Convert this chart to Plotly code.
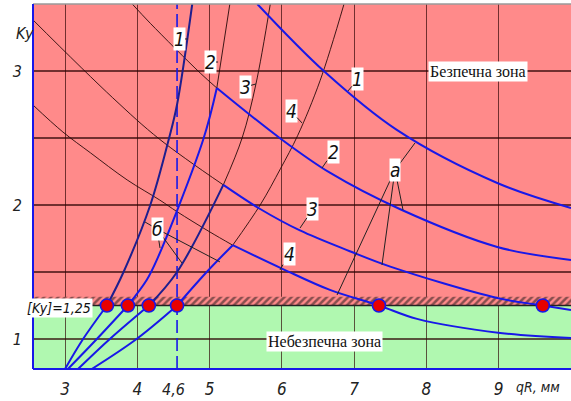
import plotly.graph_objects as go

# ---------------- data ----------------
# increasing curves (family "б"), Ky vs qR
inc1_q = [3.00, 3.25, 3.58, 3.81, 4.18, 4.44, 4.55, 4.76]
inc1_k = [0.776, 1.00, 1.25, 1.50, 2.00, 2.50, 2.75, 3.50]
inc2_q = [3.04, 3.44, 3.87, 4.13, 4.27, 4.91, 5.10, 5.28]
inc2_k = [0.776, 1.00, 1.25, 1.44, 1.59, 2.485, 2.873, 3.50]
inc3_q = [3.18, 3.62, 4.16, 4.55, 5.19, 5.45, 5.64, 5.84]
inc3_k = [0.776, 1.00, 1.25, 1.50, 2.15, 2.50, 2.90, 3.50]
inc4_q = [3.37, 3.99, 4.55, 4.96, 5.32, 5.70, 5.98, 6.22, 6.53, 6.86]
inc4_k = [0.776, 1.00, 1.25, 1.50, 1.70, 2.00, 2.27, 2.52, 2.93, 3.50]

# decreasing curves (family "а")
dec1_q = [5.66, 6.60, 7.59, 8.98, 10.0]
dec1_k = [3.50, 2.99, 2.56, 2.164, 1.978]
dec2_q = [3.93, 4.18, 4.87, 5.10, 5.97, 6.67, 7.63, 8.98, 10.0]
dec2_k = [3.50, 3.356, 2.985, 2.873, 2.50, 2.239, 1.970, 1.687, 1.59]
dec3_q = [2.557, 3.66, 4.31, 5.19, 5.70, 6.25, 6.94, 7.50, 8.98, 9.61, 10.0]
dec3_k = [3.381, 2.80, 2.49, 2.15, 1.97, 1.81, 1.655, 1.54, 1.306, 1.25, 1.216]
dec4_q = [2.557, 2.97, 3.35, 3.86, 4.31, 4.55, 5.00, 5.32, 6.015, 6.665, 7.343, 7.87, 9.02, 10.0]
dec4_k = [2.746, 2.545, 2.39, 2.187, 2.037, 1.95, 1.80, 1.70, 1.522, 1.366, 1.25, 1.15, 1.045, 1.007]

# qR where the governing curve switches from "б" to "а" (None: outside the view)
switch_q = [None, 5.10, 5.19, 5.32]

# points where Ky reaches the allowed value
dot_q = [3.58, 3.87, 4.16, 4.55, 7.343, 9.61]
dot_k = [1.25, 1.25, 1.25, 1.25, 1.25, 1.25]

ky_allow = 1.25
q_mark = 4.55
x_ticks = [3, 4, 5, 6, 7, 8, 9]
x_ticktext = ["3", "4", "5", "6", "7", "8", "9"]
y_ticks = [1, 2, 3]
y_ticktext = ["1", "2", "3"]
y_minor = [1.5, 2.5]
curve_names = ["1", "2", "3", "4"]

# ---------------- styling ----------------
X_RANGE = [2.557, 10.0]
Y_RANGE = [0.776, 3.5]
PINK = "#ff8a8a"
GREEN = "#b0f8b0"
BLUE = "#1818e8"
NAVY = "#1e1e8e"
THIN = "rgba(40,10,10,0.9)"
GRID = "rgba(45,5,5,0.68)"
NARROW = "Liberation Sans Narrow, DejaVu Sans Condensed, Arial Narrow, sans-serif"
SERIF = "Liberation Serif, Times New Roman, serif"

inc_q = [inc1_q, inc2_q, inc3_q, inc4_q]
inc_k = [inc1_k, inc2_k, inc3_k, inc4_k]
dec_q = [dec1_q, dec2_q, dec3_q, dec4_q]
dec_k = [dec1_k, dec2_k, dec3_k, dec4_k]
inc_upper_color = [NAVY, BLUE, NAVY, BLUE]


def part(q, k, cond):
    pts = [(a, b) for a, b in zip(q, k) if cond(a, b)]
    return [p[0] for p in pts], [p[1] for p in pts]


def line(x, y, color, width, dash=None):
    return go.Scatter(x=x, y=y, mode="lines", hoverinfo="skip", showlegend=False,
                      line=dict(color=color, width=width, shape="spline",
                                smoothing=1.0, dash=dash))


fig = go.Figure()

# hatched band above the allowed value
fig.add_trace(go.Scatter(
    x=[X_RANGE[0], X_RANGE[1], X_RANGE[1], X_RANGE[0], X_RANGE[0]],
    y=[ky_allow, ky_allow, ky_allow + 0.066, ky_allow + 0.066, ky_allow],
    mode="lines", fill="toself", line=dict(width=0), showlegend=False, hoverinfo="skip",
    fillcolor="rgba(0,0,0,0)",
    fillpattern=dict(shape="/", fgcolor="#111", bgcolor=PINK, size=5, solidity=0.5)))
fig.add_trace(go.Scatter(x=X_RANGE, y=[ky_allow, ky_allow], mode="lines",
                         line=dict(color="#222", width=1.3), showlegend=False, hoverinfo="skip"))

# thin black (non governing) parts
for i in range(4):
    sw = switch_q[i]
    if sw is None:
        continue
    qx, kx = part(inc_q[i], inc_k[i], lambda a, b: a >= sw - 1e-9)
    fig.add_trace(line(qx, kx, THIN, 1))
    qx, kx = part(dec_q[i], dec_k[i], lambda a, b: a <= sw + 1e-9)
    fig.add_trace(line(qx, kx, THIN, 1))

# dashed marker line
fig.add_trace(go.Scatter(x=[q_mark, q_mark], y=Y_RANGE, mode="lines", showlegend=False,
                         hoverinfo="skip", line=dict(color=BLUE, width=1.6, dash="13px,5px")))

# blue (governing) parts
for i in range(4):
    sw = switch_q[i] if switch_q[i] is not None else 1e9
    swd = switch_q[i] if switch_q[i] is not None else -1e9
    qx, kx = part(inc_q[i], inc_k[i], lambda a, b: a <= sw + 1e-9 and b <= ky_allow + 1e-9)
    fig.add_trace(line(qx, kx, BLUE, 2))
    qx, kx = part(inc_q[i], inc_k[i], lambda a, b: a <= sw + 1e-9 and b >= ky_allow - 1e-9)
    fig.add_trace(line(qx, kx, inc_upper_color[i], 2))
    qx, kx = part(dec_q[i], dec_k[i], lambda a, b: a >= swd - 1e-9)
    fig.add_trace(line(qx, kx, BLUE, 2))

# limit points
fig.add_trace(go.Scatter(x=dot_q, y=dot_k, mode="markers", showlegend=False, hoverinfo="skip",
                         marker=dict(size=13, color="#e80000", line=dict(color=BLUE, width=1.6))))

# ---------------- annotations ----------------
ann = []
lab_font = dict(family=NARROW, size=19, color="#111", style="italic")


def leader(x, y, ax, ay, text="", bg=None):
    d = dict(x=x, y=y, ax=ax, ay=ay, xref="x", yref="y", axref="x", ayref="y",
             text=text, showarrow=True, arrowhead=0, arrowwidth=1, arrowcolor="#222",
             font=lab_font, borderpad=0)
    if bg:
        d["bgcolor"] = bg
    return d


# curve numbers (increasing family, top)
inc_lab = [(4.577, 3.239, 4.70, 3.239), (5.006, 3.067, 5.117, 3.067),
           (5.49, 2.881, 5.642, 2.903), (6.127, 2.701, 6.279, 2.612)]
for name, (lx, ly, tx, ty) in zip(curve_names, inc_lab):
    ann.append(leader(tx, ty, lx, ly, name, "white"))
# curve numbers (decreasing family)
dec_lab = [(7.053, 2.94, 6.915, 2.851), (6.708, 2.396, 6.555, 2.276),
           (6.43, 1.97, 6.251, 1.828), (6.099, 1.634, 5.974, 1.515)]
for name, (lx, ly, tx, ty) in zip(curve_names, dec_lab):
    ann.append(leader(tx, ty, lx, ly, name, "white"))

# family labels with several leaders
a_pos = (7.565, 2.261)
a_targets = [(7.842, 2.463), (7.676, 1.963), (7.385, 1.552), (6.763, 1.328)]
for tx, ty in a_targets:
    ann.append(leader(tx, ty, a_pos[0], a_pos[1]))
ann.append(dict(x=a_pos[0], y=a_pos[1], xref="x", yref="y", text="а", showarrow=False,
                bgcolor="white", font=lab_font, borderpad=0))
b_pos = (4.273, 1.821)
b_targets = [(4.107, 1.873), (4.314, 1.679), (4.618, 1.567), (5.144, 1.575)]
for tx, ty in b_targets:
    ann.append(leader(tx, ty, b_pos[0], b_pos[1]))
ann.append(dict(x=b_pos[0], y=b_pos[1], xref="x", yref="y", text="б", showarrow=False,
                bgcolor="white", font=lab_font, borderpad=0))

# zone labels
ann.append(dict(x=8.714, y=2.993, xref="x", yref="y", text="Безпечна зона", showarrow=False,
                bgcolor="white", borderpad=1, font=dict(family=SERIF, size=16, color="#111")))
ann.append(dict(x=6.583, y=0.985, xref="x", yref="y", text="Небезпечна зона", showarrow=False,
                bgcolor="white", borderpad=1, font=dict(family=SERIF, size=16, color="#111")))
ann.append(dict(x=2.917, y=1.235, xref="x", yref="y", text="[Ky]=1,25", showarrow=False,
                bgcolor="white", borderpad=1,
                font=dict(family=NARROW, size=14, color="#111", style="italic")))

# axis texts
ann.append(dict(x=q_mark - 0.05, y=-0.055, xref="x", yref="paper", text="4,6", showarrow=False,
                yanchor="middle", font=dict(family=NARROW, size=16, color="#222", style="italic")))
ann.append(dict(x=9.54, y=-0.05, xref="x", yref="paper", text="qR, мм", showarrow=False,
                yanchor="middle", font=dict(family=NARROW, size=14, color="#222", style="italic")))
ann.append(dict(x=-0.036, y=0.951, xref="paper", yref="paper", text="Ky", showarrow=False,
                font=dict(family=NARROW, size=16, color="#222", style="italic")))

shapes = [
    dict(type="rect", xref="paper", yref="y", x0=0, x1=1, y0=ky_allow, y1=Y_RANGE[1],
         fillcolor=PINK, line=dict(width=0), layer="below"),
    dict(type="rect", xref="paper", yref="y", x0=0, x1=1, y0=Y_RANGE[0], y1=ky_allow,
         fillcolor=GREEN, line=dict(width=0), layer="below"),
    dict(type="line", xref="paper", yref="paper", x0=0, x1=1, y0=1, y1=1,
         line=dict(color="#9a9a9a", width=1.5)),
    dict(type="line", xref="paper", yref="paper", x0=0, x1=0, y0=0, y1=1,
         line=dict(color=BLUE, width=2)),
    dict(type="line", xref="paper", yref="paper", x0=0, x1=1, y0=0, y1=0,
         line=dict(color=BLUE, width=2)),
]

fig.update_layout(
    width=571, height=401,
    margin=dict(l=33, r=0, t=4, b=32, autoexpand=False),
    paper_bgcolor="white", plot_bgcolor="white",
    showlegend=False,
    shapes=shapes, annotations=ann,
    xaxis=dict(range=X_RANGE, tickvals=x_ticks, ticktext=x_ticktext, showgrid=True,
               gridcolor=GRID, gridwidth=1.3, zeroline=False, showline=False, ticks="",
               ticklabelstandoff=8, automargin=False,
               tickfont=dict(family=NARROW, size=17, color="#222", style="italic")),
    yaxis=dict(range=Y_RANGE, tickvals=y_ticks, ticktext=y_ticktext, showgrid=True,
               gridcolor=GRID, gridwidth=1.8, zeroline=False, showline=False, ticks="",
               ticklabelstandoff=10, automargin=False,
               minor=dict(tickvals=y_minor, showgrid=True, gridcolor=GRID, gridwidth=1.8),
               tickfont=dict(family=NARROW, size=16, color="#222", style="italic")),
)

fig.write_html("out.html", config={"displayModeBar": False},
               post_script="document.body.style.margin='0px';document.body.style.overflow='hidden';")
